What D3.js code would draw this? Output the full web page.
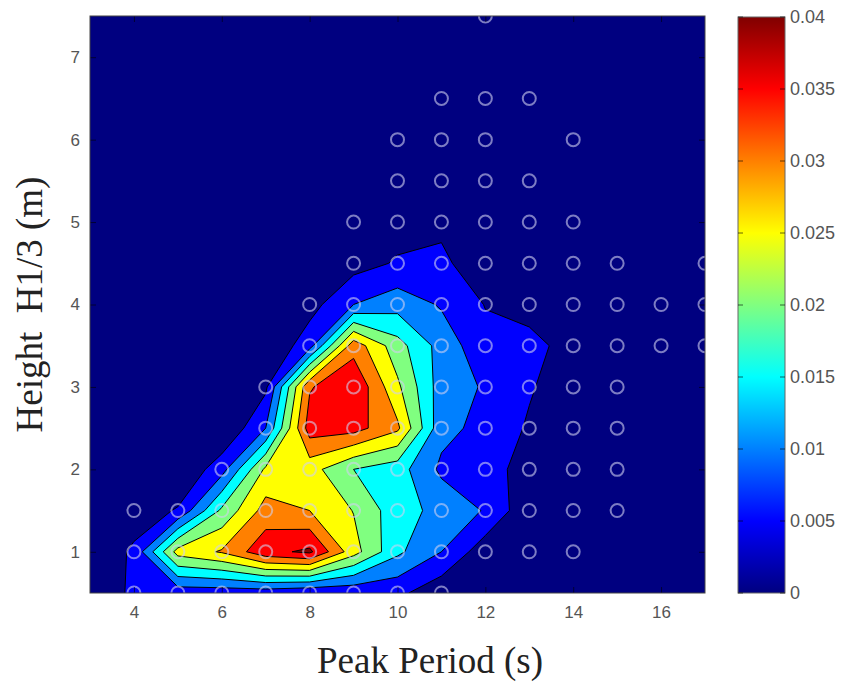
<!DOCTYPE html>
<html>
<head>
<meta charset="utf-8">
<script src="https://cdn.jsdelivr.net/npm/d3@7"></script>
<style>
  body { margin: 0; background: #fff; }
  text { font-family: "Liberation Sans", Arial, sans-serif; }
</style>
</head>
<body>
<div id="chart"></div>
<script>
// grid of the joint distribution: columns = peak period, rows = height
var periods = [3, 4, 5, 6, 7, 8, 9, 10, 11, 12, 13, 14, 15, 16, 17];
var heights = [0.5, 1, 1.5, 2, 2.5, 3, 3.5, 4, 4.5, 5, 5.5, 6, 6.5, 7, 7.5];

// one row per height (bottom to top), one value per period
var density = [
  [0, 0.0063, 0.007, 0.007, 0.007, 0.0055, 0.006, 0.0062, 0.0015, 0, 0, 0, 0, 0, 0],
  [0, 0.006, 0.027, 0.0305, 0.0385, 0.041, 0.027, 0.016, 0.010, 0.002, 0.001, 0.001, 0, 0, 0],
  [0, 0.002, 0.0055, 0.021, 0.032, 0.030, 0.0248, 0.017, 0.0135, 0.0096, 0.0012, 0.001, 0.001, 0, 0],
  [0, 0, 0, 0.008, 0.026, 0.027, 0.020, 0.0172, 0.009, 0.007, 0.003, 0.001, 0.001, 0, 0],
  [0, 0, 0, 0, 0.010, 0.0375, 0.037, 0.031, 0.0115, 0.0085, 0.0044, 0.002, 0.001, 0, 0],
  [0, 0, 0, 0, 0.004, 0.0345, 0.0395, 0.026, 0.0125, 0.0095, 0.0055, 0.002, 0.001, 0, 0],
  [0, 0, 0, 0, 0, 0.008, 0.033, 0.022, 0.013, 0.0065, 0.0075, 0.002, 0.001, 0.001, 0.001],
  [0, 0, 0, 0, 0, 0.003, 0.010, 0.013, 0.0095, 0.0048, 0.002, 0.002, 0.001, 0.001, 0.001],
  [0, 0, 0, 0, 0, 0, 0.003, 0.0055, 0.006, 0.002, 0.002, 0.002, 0.001, 0, 0.001],
  [0, 0, 0, 0, 0, 0, 0.001, 0.003, 0.004, 0.002, 0.001, 0.001, 0, 0, 0],
  [0, 0, 0, 0, 0, 0, 0, 0.001, 0.002, 0.001, 0.001, 0, 0, 0, 0],
  [0, 0, 0, 0, 0, 0, 0, 0.001, 0.001, 0.001, 0, 0.001, 0, 0, 0],
  [0, 0, 0, 0, 0, 0, 0, 0, 0.001, 0.001, 0.001, 0, 0, 0, 0],
  [0, 0, 0, 0, 0, 0, 0, 0, 0, 0, 0, 0, 0, 0, 0],
  [0, 0, 0, 0, 0, 0, 0, 0, 0, 0.001, 0, 0, 0, 0, 0]
];

var levels = [0.005, 0.01, 0.015, 0.02, 0.025, 0.03, 0.035, 0.04];
var xTicks = [4, 6, 8, 10, 12, 14, 16];
var yTicks = [1, 2, 3, 4, 5, 6, 7];
var barTicks = [0, 0.005, 0.01, 0.015, 0.02, 0.025, 0.03, 0.035, 0.04];
var barLabels = ["0", "0.005", "0.01", "0.015", "0.02", "0.025", "0.03", "0.035", "0.04"];
var cmax = 0.04;

// matlab jet
function jet(t) {
  var c = function(v) { return Math.max(0, Math.min(1, v)); };
  var r = c(1.5 - Math.abs(4 * t - 3)),
      g = c(1.5 - Math.abs(4 * t - 2)),
      b = c(1.5 - Math.abs(4 * t - 1));
  return d3.rgb(r * 255, g * 255, b * 255).formatHex();
}

var width = 849, height = 686;
var plotL = 90, plotR = 705, plotT = 16, plotB = 593;

var svg = d3.select("#chart").append("svg")
  .attr("width", width)
  .attr("height", height);

var x = d3.scaleLinear()
  .domain([periods[0], periods[periods.length - 1]])
  .range([plotL, plotR]);
var y = d3.scaleLinear()
  .domain([heights[0], heights[heights.length - 1]])
  .range([plotB, plotT]);

svg.append("clipPath").attr("id", "plotclip")
  .append("rect")
  .attr("x", plotL).attr("y", plotT)
  .attr("width", plotR - plotL).attr("height", plotB - plotT);

var plot = svg.append("g").attr("clip-path", "url(#plotclip)");

plot.append("rect")
  .attr("x", plotL).attr("y", plotT)
  .attr("width", plotR - plotL).attr("height", plotB - plotT)
  .attr("fill", jet(0));

// filled contours
var nx = periods.length, ny = heights.length;
var values = [];
density.forEach(function(row) { row.forEach(function(v) { values.push(v); }); });

var bands = d3.contours()
  .size([nx, ny])
  .thresholds(levels)(values);

var stepX = periods[1] - periods[0], stepY = heights[1] - heights[0];
var gridProj = d3.geoTransform({
  point: function(px, py) {
    this.stream.point(x(periods[0] + (px - 0.5) * stepX), y(heights[0] + (py - 0.5) * stepY));
  }
});
var path = d3.geoPath(gridProj);

plot.selectAll("path.band")
  .data(bands)
  .enter()
  .append("path")
  .attr("class", "band")
  .attr("d", path)
  .attr("fill", function(d) { return jet(d.value / cmax); })
  .attr("stroke", "#000")
  .attr("stroke-width", 1)
  .attr("stroke-linejoin", "round");

// observed bins
var pts = [];
density.forEach(function(row, j) {
  row.forEach(function(v, i) {
    if (v > 0) pts.push({p: periods[i], h: heights[j]});
  });
});

plot.selectAll("circle.obs")
  .data(pts)
  .enter()
  .append("circle")
  .attr("class", "obs")
  .attr("cx", function(d) { return x(d.p); })
  .attr("cy", function(d) { return y(d.h); })
  .attr("r", 6.5)
  .attr("fill", "none")
  .attr("stroke", "#d0d0f0")
  .attr("stroke-opacity", 0.6)
  .attr("stroke-width", 2);

// axes, matlab style ticks inside
var tickLen = 6;
svg.append("g")
  .attr("transform", "translate(0," + plotB + ")")
  .call(d3.axisBottom(x).tickValues(xTicks).tickFormat(d3.format("d"))
    .tickSizeInner(-tickLen).tickSizeOuter(0).tickPadding(13));
svg.append("g")
  .attr("transform", "translate(0," + plotT + ")")
  .call(d3.axisTop(x).tickValues(xTicks).tickSizeInner(-tickLen).tickSizeOuter(0).tickFormat(""));
svg.append("g")
  .attr("transform", "translate(" + plotL + ",0)")
  .call(d3.axisLeft(y).tickValues(yTicks).tickFormat(d3.format("d"))
    .tickSizeInner(-tickLen).tickSizeOuter(0).tickPadding(10));
svg.append("g")
  .attr("transform", "translate(" + plotR + ",0)")
  .call(d3.axisRight(y).tickValues(yTicks).tickSizeInner(-tickLen).tickSizeOuter(0).tickFormat(""));

svg.selectAll(".domain").remove();
svg.selectAll(".tick line").attr("stroke", "#000").attr("stroke-opacity", 0.6);
svg.selectAll(".tick text")
  .attr("fill", "#555")
  .style("font-size", "17px");

svg.append("rect")
  .attr("x", plotL).attr("y", plotT)
  .attr("width", plotR - plotL).attr("height", plotB - plotT)
  .attr("fill", "none")
  .attr("stroke", "#444")
  .attr("stroke-width", 1);

// colorbar
var barX = 738, barW = 47;
var cy = d3.scaleLinear().domain([0, cmax]).range([593, 17]);

var grad = svg.append("defs").append("linearGradient")
  .attr("id", "jetgrad")
  .attr("x1", 0).attr("y1", 1).attr("x2", 0).attr("y2", 0);
d3.range(0, 1.0001, 0.0625).forEach(function(t) {
  grad.append("stop").attr("offset", t).attr("stop-color", jet(t));
});

svg.append("rect")
  .attr("x", barX).attr("y", cy(cmax))
  .attr("width", barW).attr("height", cy(0) - cy(cmax))
  .attr("fill", "url(#jetgrad)")
  .attr("stroke", "#666")
  .attr("stroke-width", 1);

var bt = svg.append("g").selectAll("g")
  .data(barTicks)
  .enter()
  .append("g");
bt.append("line")
  .attr("x1", barX).attr("x2", barX + 5)
  .attr("y1", function(d) { return cy(d); }).attr("y2", function(d) { return cy(d); })
  .attr("stroke", "#000").attr("stroke-opacity", 0.6);
bt.append("line")
  .attr("x1", barX + barW - 5).attr("x2", barX + barW)
  .attr("y1", function(d) { return cy(d); }).attr("y2", function(d) { return cy(d); })
  .attr("stroke", "#000").attr("stroke-opacity", 0.6);
bt.append("text")
  .attr("x", barX + barW + 5)
  .attr("y", function(d) { return cy(d); })
  .attr("dy", "0.35em")
  .attr("fill", "#555")
  .style("font-size", "18px")
  .text(function(d, i) { return barLabels[i]; });

// axis titles
svg.append("text")
  .attr("x", 430)
  .attr("y", 673)
  .attr("text-anchor", "middle")
  .style("font-family", "'Liberation Serif', 'Times New Roman', serif")
  .style("font-size", "37px")
  .attr("fill", "#222")
  .text("Peak Period (s)");

svg.append("text")
  .attr("transform", "translate(42," + ((plotT + plotB) / 2) + ") rotate(-90)")
  .attr("text-anchor", "middle")
  .style("font-family", "'Liberation Serif', 'Times New Roman', serif")
  .style("font-size", "37px")
  .style("white-space", "pre")
  .attr("fill", "#222")
  .text("Height  H1/3 (m)");
</script>
</body>
</html>
